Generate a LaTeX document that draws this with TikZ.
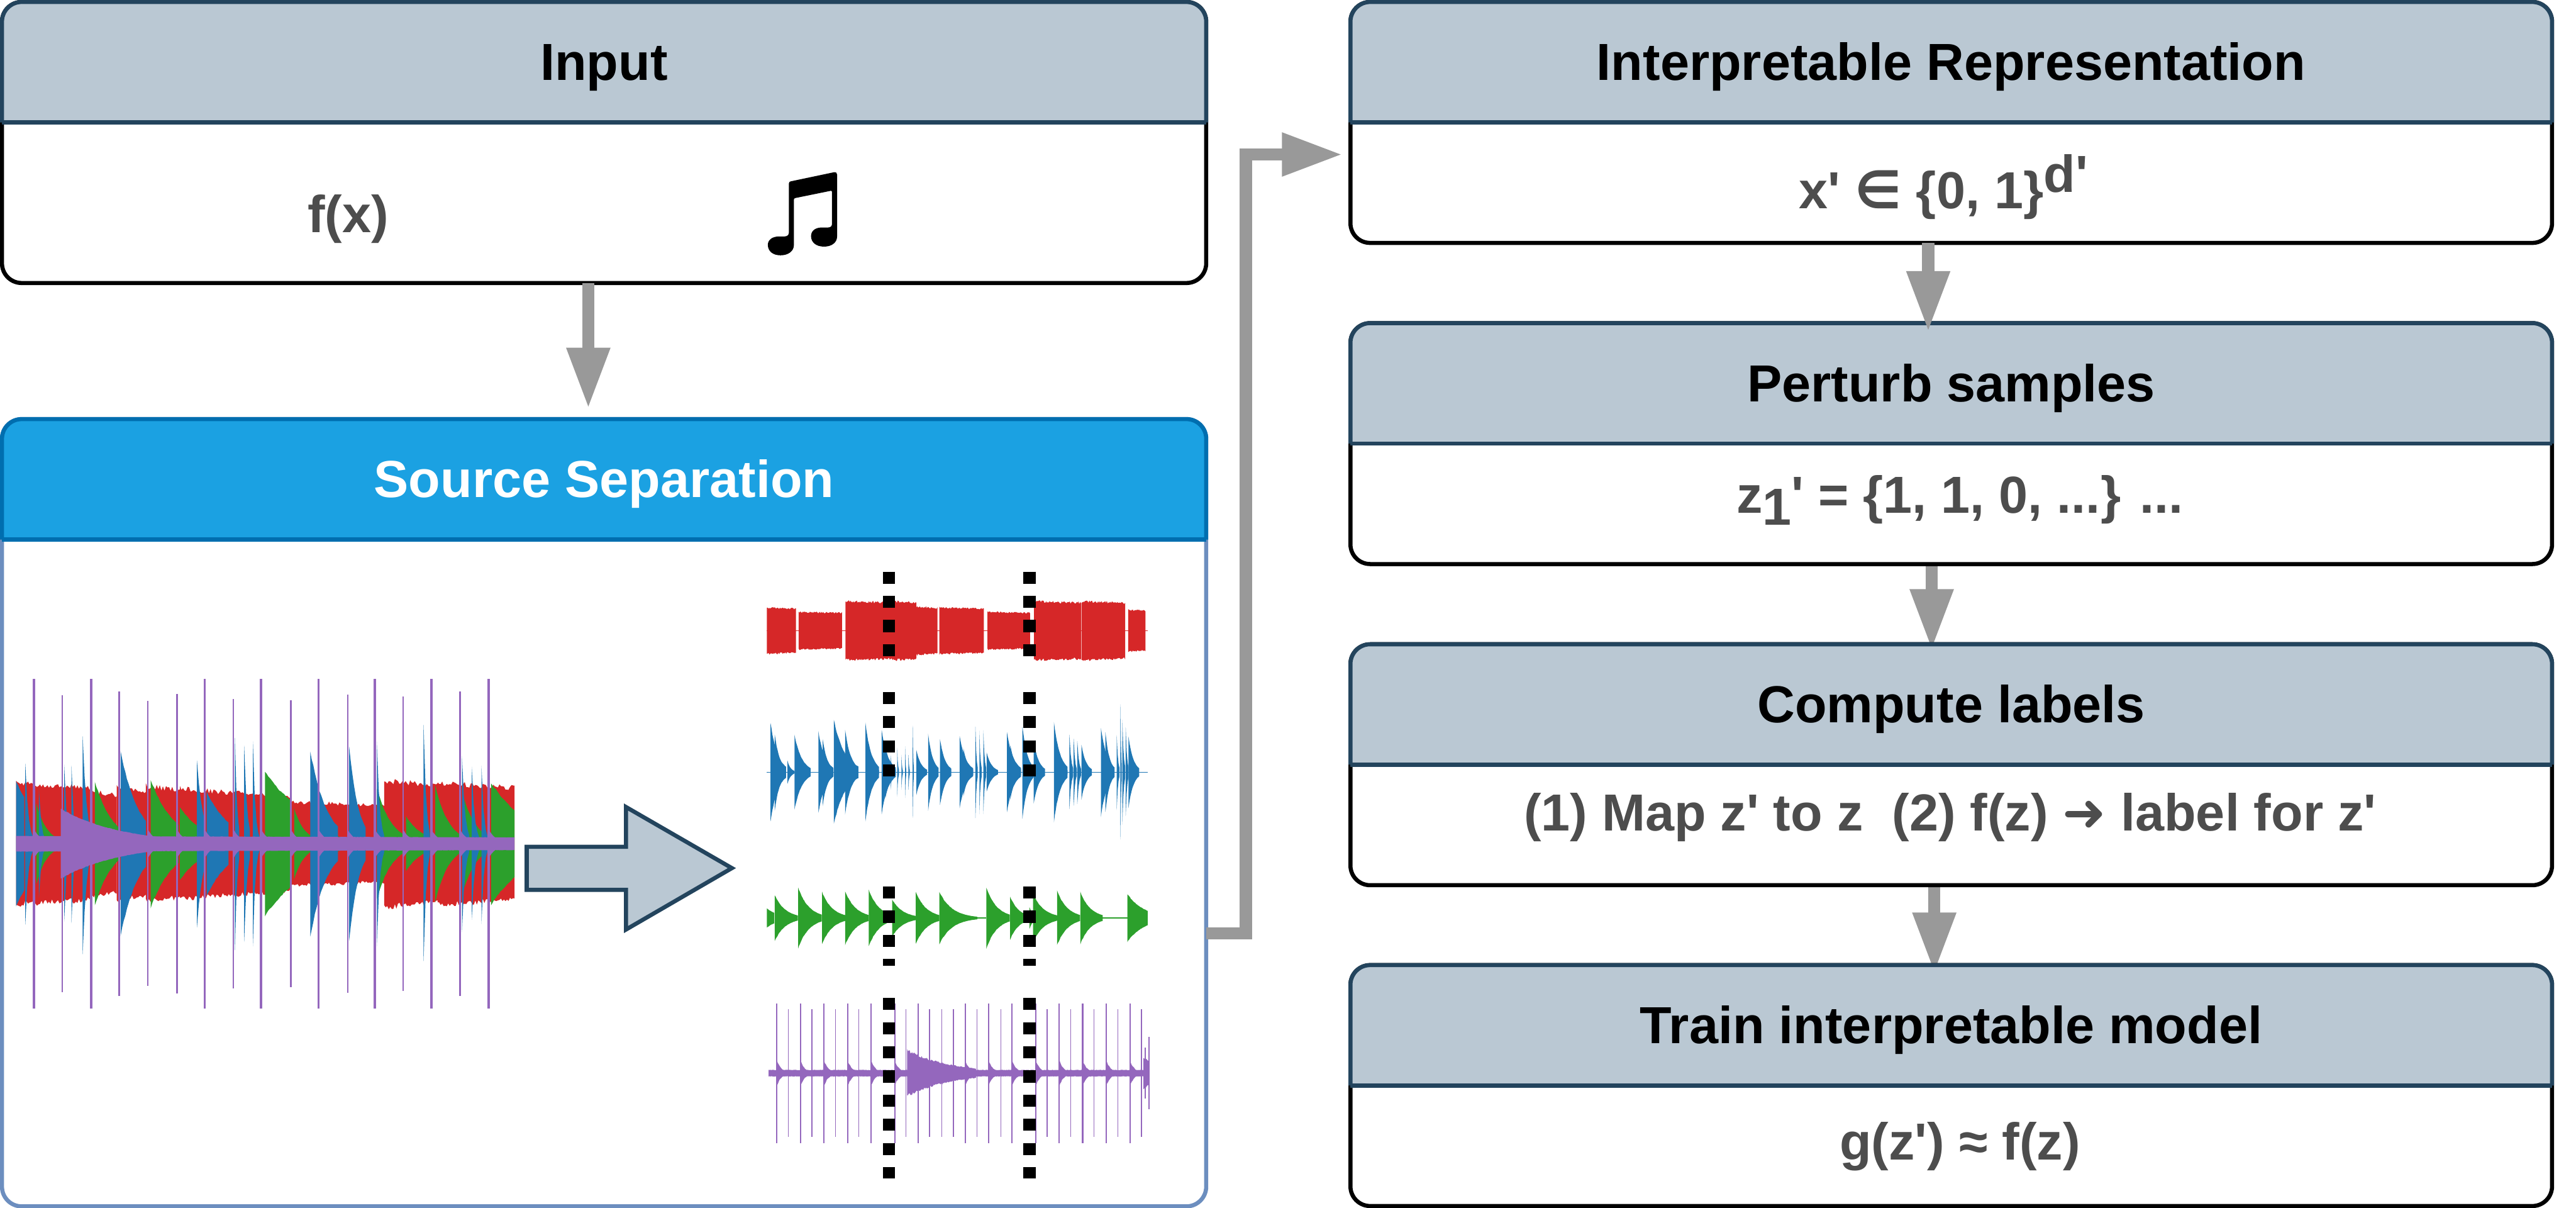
\documentclass[tikz,border=0pt]{standalone}
\usepackage{fontspec}
\setmainfont{Liberation Sans}[Ligatures=TeXOff]
\newfontfamily\symbfont{DejaVu Sans}
\usetikzlibrary{arrows.meta,backgrounds}

\definecolor{greybody}{HTML}{000000}
\definecolor{greyhead}{HTML}{BAC8D3}
\definecolor{greyline}{HTML}{23445D}
\definecolor{greytext}{HTML}{000000}
\definecolor{bluebody}{HTML}{6C8EBF}
\definecolor{bluehead}{HTML}{1BA1E2}
\definecolor{blueline}{HTML}{006EAF}
\definecolor{bluetext}{HTML}{FFFFFF}
\definecolor{bodygrey}{HTML}{4D4D4D}
\definecolor{flowgrey}{HTML}{999999}
\definecolor{wred}{HTML}{D62728}
\definecolor{wblue}{HTML}{1F77B4}
\definecolor{wgreen}{HTML}{2CA02C}
\definecolor{wpurple}{HTML}{9467BD}

\tikzset{
    paneltitle/.style={anchor=base,inner sep=0pt,font=\fontsize{31.7}{34}\selectfont\bfseries},
    paneltext/.style={paneltitle,text=bodygrey},
    flow/.style={draw=flowgrey,line width=7.4pt,-{Triangle[length=37pt,width=24.7pt]}},
    slice/.style={draw=black,line width=7.4pt,dash pattern=on 7.35pt off 7.35pt}
}

% name, x, y, width, height, title, colour set
\newcommand{\panel}[7]{
    \node[draw=#7body,line width=2.5pt,fill=white,rounded corners=12pt,outer sep=0pt,inner sep=0pt,
        anchor=north west,minimum width=#4pt,minimum height=#5pt] (#1) at (#2,#3) {};
    \path[fill=#7head,draw=#7line,line width=2.5pt,rounded corners=12pt]
        ([yshift=-73.3pt]#1.north west) -- (#1.north west) -- (#1.north east) -- ([yshift=-73.3pt]#1.north east);
    \draw[#7line,line width=2.5pt] ([yshift=-73.3pt]#1.north west) -- ([yshift=-73.3pt]#1.north east);
    \node[paneltitle,text=#7text] (#1title) at ([yshift=-47.8pt]#1.north) {#6};
}

% one decaying burst of a waveform: [decay] start, end, amplitude
\newcommand{\burst}[4][2.2]{
    \pgfmathtruncatemacro\ws{max(4,(#3-#2)/3)}
    \fill plot[domain=#2:#3,samples=\ws] (\x,{\wy-(#4)*exp(-#1*(\x-#2)/(#3-#2))*(1+\wn*rnd)})
        -- plot[domain=#3:#2,samples=\ws] (\x,{\wy+(#4)*exp(-#1*(\x-#2)/(#3-#2))*(1+\wn*rnd)}) -- cycle;
}

\begin{document}
\begin{tikzpicture}[x=1pt,y=-1pt]
        \useasboundingbox (0,0) rectangle (1568,735);
        \pgfmathsetseed{11}

        % left column
        \panel{input}{1.2}{1.2}{733}{171}{Input}{grey}
        \panel{separation}{1.2}{255}{733}{479}{Source Separation}{blue}
        % right column
        \panel{representation}{822}{1.2}{731.4}{146.6}{Interpretable Representation}{grey}
        \panel{perturb}{822}{196.6}{731.4}{146.6}{Perturb samples}{grey}
        \panel{labels}{822}{392}{731.4}{146.6}{Compute labels}{grey}
        \panel{train}{822}{587.2}{731.4}{146.6}{Train interpretable model}{grey}

        \node[paneltext] (fx) at (212,141.4) {f(x)};
        \node[paneltext] (xprime) at (1183,127) {x' {\symbfont∈} \{0, 1\}\raisebox{10pt}{d'}};
        \node[paneltext] (zprime) at (1193,312) {z\raisebox{-7.5pt}{1}' = \{1, 1, 0, ...\} ...};
        \node[paneltext] (maplabel) at (1187,505.5) {(1) Map z' to z~ (2) f(z) {\symbfont ➜} label for z'};
        \node[paneltext] (gz) at (1193,705.8) {g(z') ≈ f(z)};

        % the note
        \begin{scope}[shift={(439.7,85.5)},x=.0814pt,y=-.0814pt]
            \fill (497,322) .. controls (497,312) and (503,307) .. (512,305) -- (835,237)
                .. controls (850,235) and (858,243) .. (858,255) -- (858,715)
                .. controls (858,765) and (815,793) .. (760,793) .. controls (700,793) and (663,760) .. (663,715)
                .. controls (663,675) and (695,650) .. (745,650) -- (790,650)
                .. controls (810,650) and (820,640) .. (820,620) -- (820,385)
                .. controls (820,378) and (816,375) .. (810,376) -- (545,430)
                .. controls (538,432) and (535,435) .. (535,442) -- (535,780)
                .. controls (535,825) and (495,858) .. (435,858) .. controls (375,858) and (340,825) .. (340,780)
                .. controls (340,745) and (370,717) .. (425,717) -- (465,717)
                .. controls (485,717) and (497,705) .. (497,690) -- cycle;
        \end{scope}

        % mixture
        \begin{scope}[shift={(0,378.6)},x=.296pt,y=-.1558pt]
            \def\wy{865}
            \def\wn{.1}
            \begin{scope}[fill=wred]
                \foreach \a/\b/\c in {33/190/225,190/240/195,240/300/210,300/370/215,370/480/205,480/600/190,600/790/155,790/900/235,900/1058/225}
                    {\burst[.08]{\a}{\b}{\c}}
            \end{scope}
            \def\wn{.03}
            \begin{scope}[fill=wgreen]
                \foreach \a/\b/\c/\k in {75/125/155/2.3,195/243/240/1.3,310/367/245/1.2,370/420/140/1,430/478/65/1.2,545/597/275/.5,605/655/135/2.2,660/712/120/2.1,775/830/215/1.8,835/885/105/1.4,895/945/225/1.8,955/1008/170/1.9,1010/1058/235/.6}
                    {\burst[\k]{\a}{\b}{\c}}
            \end{scope}
            \begin{scope}[fill=wblue]
                \foreach \a/\b/\c/\k in {33/50/240/.3,52/68/310/2.5,80/93/210/2.5,132/145/300/2.5,147/160/305/3,170/190/420/2.5,248/300/355/1.4,405/420/320/1.2,425/470/200/.9,483/492/407/2,502/514/380/2,520/535/393/3,638/695/360/1.7,718/752/378/1.8,775/790/390/2.5,871/884/455/2.4,950/965/340/2.4,970/985/293/2.4,990/1003/305/2.5}
                    {\burst[\k]{\a}{\b}{\c}}
            \end{scope}
            \begin{scope}[fill=wpurple]
                \burst[.2]{33}{1058}{30}
                \burst[2.4]{125}{420}{135}
                \foreach \a in {70,128,187,245,304,364,421,480,537,598,655,715,771,829,887,946,1005}
                    {\burst[2.5]{\a}{\a+40}{55}}
            \end{scope}
            \foreach \a in {70,187,421,537,655,771,887,1005}
                {\draw[wpurple,line width=1.5pt] (\a,222) -- (\a,1508);}
            \foreach \a/\t/\b in {128/285/1445,245/270/1460,304/308/1420,364/280/1450,480/300/1430,598/305/1425,715/282/1447,829/290/1440,946/270/1460}
                {\draw[wpurple,line width=1pt] (\a,\t) -- (\a,\b);}
        \end{scope}

        % arrow between mixture and stems
        \draw[draw=greyline,fill=greyhead,line width=2.5pt,miter limit=10]
            (320.6,515.2) -- (381,515.2) -- (381,491) -- (445.5,528.2) -- (381,565.6) -- (381,541.4) -- (320.6,541.4) -- cycle;

        % stems
        \begin{scope}[shift={(451.9,329.7)},x=.1713pt,y=-.2586pt]
            \def\wn{.09}
            \def\wy{209}
            \draw[wred,line width=.5pt] (87,\wy) -- (1440,\wy);
            \begin{scope}[fill=wred]
                \foreach \a/\b/\c in {87/190/52,200/354/42,366/533/66,533/618/66,618/693/54,700/858/52,871/1022/42,1036/1203/66,1205/1360/66,1371/1432/47}
                    {\burst[.05]{\a}{\b}{\c}}
            \end{scope}
            \def\wn{.04}
            \def\wy{542}
            \draw[wblue,line width=.5pt] (87,\wy) -- (1440,\wy);
            \begin{scope}[fill=wblue]
                \foreach \a/\b/\c in {100/155/114,115/155/87,160/185/27,185/242/87,200/242/45,270/323/94,285/323/77,325/412/120,365/412/97,437/485/114,450/485/42,495/545/97,508/545/60,527/535/40,550/556/57,565/570/40,578/582/60,590/595/40,605/609/107,618/656/52,660/697/89,702/742/77,772/820/82,785/820/55,828/836/104,842/850/97,856/866/97,868/908/45,940/990/92,952/990/62,995/1035/107,1035/1075/72,1107/1155/115,1120/1155/42,1162/1175/86,1177/1188/77,1190/1203/72,1205/1242/62,1274/1322/102,1290/1322/92,1330/1340/87,1343/1348/154,1350/1360/122,1362/1372/102,1372/1410/82}
                    {\burst{\a}{\b}{\c}}
            \end{scope}
            \def\wy{885}
            \draw[wgreen,line width=1pt] (835,\wy) -- (867,\wy) (1280,\wy) -- (1368,\wy);
            \begin{scope}[fill=wgreen]
                \foreach \a/\b/\c/\k in {87/113/22/.6,115/197/53/2.2,198/282/70/2.2,283/365/60/2.2,365/449/62/2.2,449/532/65/2.2,532/616/43/2.2,616/700/60/2.2,700/835/60/3,867/950/70/2.2,951/1020/50/2.2,1020/1033/25/1,1033/1118/55/2.2,1118/1200/63/2.2,1201/1280/60/2.2,1368/1440/55/1.2}
                    {\burst[\k]{\a}{\b}{\c}}
            \end{scope}
            \def\wy{1250}
            \def\wn{.15}
            \begin{scope}[fill=wpurple]
                \burst[0]{93}{1445}{7}
                \burst[1.6]{585}{830}{50}
                \burst[.3]{1425}{1445}{35}
                \foreach \a in {122,206,290,374,457,541,625,708,792,875,958,1042,1126,1209,1293,1377}
                    {\burst[2.6]{\a}{\a+42}{28}}
            \end{scope}
            \foreach \a in {122,206,290,374,457,541,625,792,875,958,1042,1126,1209,1293,1377}
                {\draw[wpurple,line width=.8pt] (\a,1086) -- (\a,1415);}
            \foreach \a in {163,247,330,414,581,665,708,750,834,918,1083,1167,1250,1334,1418}
                {\draw[wpurple,line width=.5pt] (\a,1100) -- (\a,1400);}
            \draw[wpurple,line width=.6pt] (1445,1165) -- (1445,1335) (1431,1190) -- (1431,1310);
        \end{scope}

        % slices
        \foreach \x in {541,626.6}{
            \draw[slice] (\x,347.8) -- (\x,399.2);
            \draw[slice] (\x,421) -- (\x,472.4);
            \draw[slice] (\x,539.4) -- (\x,587.5);
            \draw[slice] (\x,607.2) -- (\x,717.1);
        }

        % connectors
        \coordinate (bend) at (758.4,94);
        \draw[flow] ([xshift=-9.6pt]input.south) -- ([xshift=-9.6pt,yshift=6.4pt]separation.north);
        \draw[flow] ([yshift=-73.3pt]separation.east) -| (bend) -- ([xshift=-4.7pt,yshift=-19.5pt]representation.west);
        \draw[flow] ([xshift=-14pt]representation.south) -- ([xshift=-14pt,yshift=-5.3pt]perturb.north);
        \begin{pgfonlayer}{background}
            \draw[flow] ([xshift=-11.9pt]perturb.south) -- ([xshift=-11.9pt,yshift=-3.5pt]labels.north);
            \draw[flow] ([xshift=-10.3pt]labels.south) -- ([xshift=-10.3pt,yshift=-5pt]train.north);
        \end{pgfonlayer}
\end{tikzpicture}
\end{document}
